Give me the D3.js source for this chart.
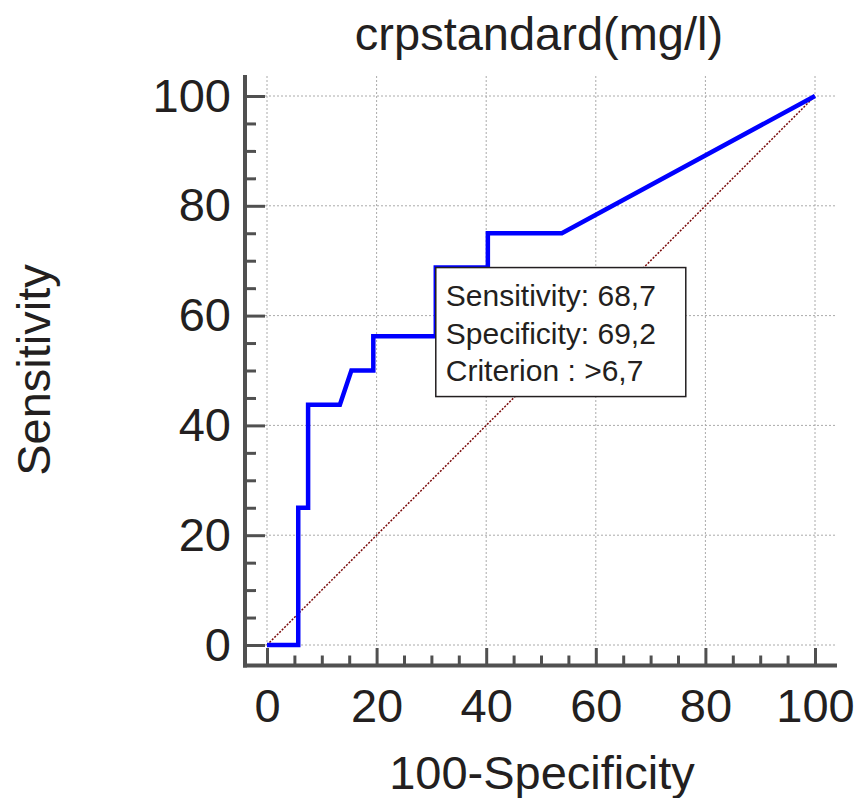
<!DOCTYPE html>
<html lang="en">
<head>
  <meta charset="utf-8" />
  <script src="https://cdn.jsdelivr.net/npm/d3@7"></script>
  <style>
    body { margin: 0; background: #fff; }
    text { font-family: "Liberation Sans", Arial, sans-serif; fill: #231f20; }
  </style>
</head>
<body>
<div id="chart"></div>
<script>
// ROC curve (x = 100-Specificity, y = Sensitivity)
const fpr  = [0, 5.7, 5.7, 7.5, 7.5, 13.3, 15.4, 19.4, 19.4, 30.8, 30.8, 40.3, 40.3, 53.8, 100];
const sens = [0, 0, 25, 25, 43.75, 43.75, 50, 50, 56.25, 56.25, 68.75, 68.75, 75, 75, 100];
const majorTicks = [0, 20, 40, 60, 80, 100];
const minorTicks = d3.range(0, 101, 5).filter(v => v % 20 != 0);
const title = "crpstandard(mg/l)";
const xTitle = "100-Specificity";
const yTitle = "Sensitivity";
const boxLines = ["Sensitivity: 68,7", "Specificity: 69,2", "Criterion : >6,7"];
const boxAt = [30.8, 68.75]; // criterion point = top-left corner of the label

const W = 859, H = 798;
const svg = d3.select("#chart").append("svg").attr("width", W).attr("height", H);

const x = d3.scaleLinear().domain([0, 100]).range([267, 815]);
const y = d3.scaleLinear().domain([0, 100]).range([645, 96]);
const axisX = 245, axisY = 665.5;

// grid
let grid = svg.append("g").attr("stroke", "#aaa").attr("stroke-width", 1).attr("stroke-dasharray", "2,2");
grid.selectAll("line.h").data(majorTicks).join("line")
  .attr("x1", 265).attr("x2", 835).attr("y1", d => y(d)).attr("y2", d => y(d));
grid.selectAll("line.v").data(majorTicks).join("line")
  .attr("y1", 76).attr("y2", 648).attr("x1", d => x(d)).attr("x2", d => x(d));

// reference diagonal
svg.append("line")
  .attr("x1", x(0)).attr("y1", y(0)).attr("x2", x(100)).attr("y2", y(100))
  .attr("stroke", "#7a0a0a").attr("stroke-width", 1.5).attr("stroke-dasharray", "2,1.5");

// ROC curve
let pts = fpr.map((v, i) => [v, sens[i]]);
svg.append("path")
  .attr("d", d3.line().x(d => x(d[0])).y(d => y(d[1]))(pts))
  .attr("fill", "none").attr("stroke", "#0000ff").attr("stroke-width", 4.5)
  .attr("stroke-linejoin", "miter");

// axes
function styleAxis(g) {
  g.select(".domain").remove();
  g.selectAll(".tick line").attr("stroke", "#505050").attr("stroke-width", 3);
  g.selectAll(".tick text").attr("font-size", 47).attr("fill", "#231f20")
    .attr("font-family", "'Liberation Sans', Arial, sans-serif");
}
svg.append("g").attr("transform", `translate(${axisX},0)`)
  .call(d3.axisLeft(y).tickValues(majorTicks).tickSize(-20).tickPadding(14).tickSizeOuter(0))
  .call(styleAxis);
svg.append("g").attr("transform", `translate(${axisX},0)`)
  .call(d3.axisLeft(y).tickValues(minorTicks).tickSize(-11).tickFormat(""))
  .call(styleAxis);
svg.append("g").attr("transform", `translate(0,${axisY})`)
  .call(d3.axisBottom(x).tickValues(majorTicks).tickSize(-17.5).tickPadding(23).tickSizeOuter(0))
  .call(styleAxis);
svg.append("g").attr("transform", `translate(0,${axisY})`)
  .call(d3.axisBottom(x).tickValues(minorTicks).tickSize(-10).tickFormat(""))
  .call(styleAxis);

svg.append("line").attr("x1", axisX).attr("x2", axisX).attr("y1", 75).attr("y2", axisY + 2)
  .attr("stroke", "#505050").attr("stroke-width", 4);
svg.append("line").attr("x1", axisX - 2).attr("x2", 837).attr("y1", axisY).attr("y2", axisY)
  .attr("stroke", "#505050").attr("stroke-width", 4);

// titles
svg.append("text").attr("x", 539).attr("y", 50).attr("text-anchor", "middle")
  .attr("font-size", 47).text(title);
svg.append("text").attr("x", 542).attr("y", 789).attr("text-anchor", "middle")
  .attr("font-size", 47).text(xTitle);
svg.append("text").attr("transform", "translate(50,370) rotate(-90)").attr("text-anchor", "middle")
  .attr("font-size", 47).text(yTitle);

// criterion label
let bx = x(boxAt[0]), by = y(boxAt[1]);
let box = svg.append("g").attr("transform", `translate(${bx},${by})`);
box.append("rect").attr("width", 250).attr("height", 129)
  .attr("fill", "#fff").attr("stroke", "#231f20").attr("stroke-width", 1.5);
box.selectAll("text").data(boxLines).join("text")
  .attr("x", 10).attr("y", (d, i) => 38.5 + i * 37.5)
  .attr("font-size", 30).text(d => d);
</script>
</body>
</html>
